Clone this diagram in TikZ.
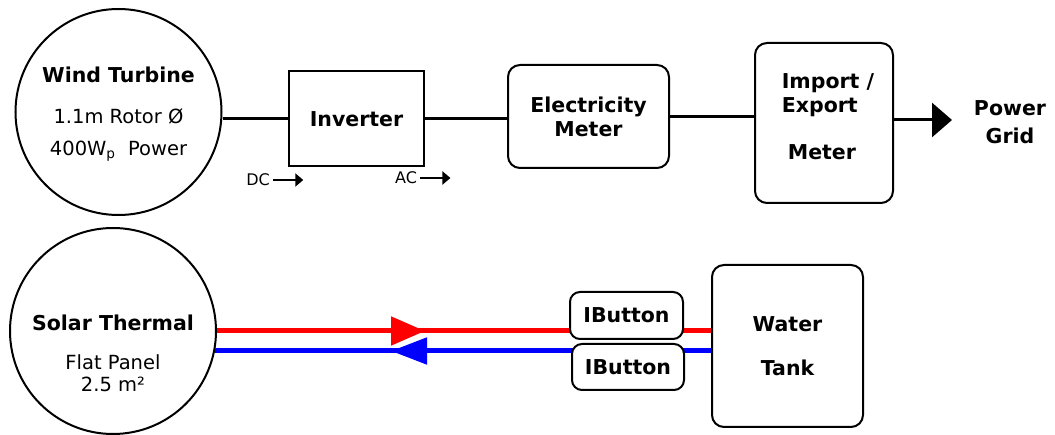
\documentclass[tikz,border=0pt]{standalone}
\usepackage{fontspec}
\setmainfont{DejaVu Sans}
\usetikzlibrary{arrows.meta, positioning, calc}
\definecolor{hotred}{RGB}{255, 0, 0}
\definecolor{coldblue}{RGB}{0, 0, 255}

\begin{document}
\begin{tikzpicture}[x=1pt, y=-1pt,
  every node/.style={font=\fontsize{19.5}{22}\selectfont},
  unit/.style={draw, line width=2pt, circle, minimum size=206pt, inner sep=0pt},
  block/.style={draw, line width=2pt, fill=white, inner sep=0pt, align=center, font=\fontsize{20.5}{24}\selectfont\bfseries},
  meter/.style={block, rounded corners=12pt},
  title/.style={font=\fontsize{20.5}{24}\selectfont\bfseries, align=center},
  small/.style={font=\fontsize{16}{18}\selectfont},
  wire/.style={line width=3pt},
  hotpipe/.style={hotred, line width=5pt},
  coldpipe/.style={coldblue, line width=5pt}]
\useasboundingbox (0,0) rectangle (1055,435);
% wind turbine line
\node[unit] (wt) at (118.5,112) {};
\node[title] (wtname) at (118.5,75) {Wind Turbine};
\node[align=center] (wtdata) at (118.5,135) {1.1m Rotor Ø\\[10pt]400W\textsubscript{p}\ \ Power};
\node[block, minimum width=135pt, minimum height=95pt] (inv) at (356.5,119) {Inverter};
\node[meter, minimum width=161pt, minimum height=103pt] (em) at (588.5,116.5) {Electricity\\Meter};
\node[meter, minimum width=138pt, minimum height=160pt] (ie) at (824,123) {};
\node[title, align=left] (ietext) at (828,117) {Import /\\Export\\[23pt]\hspace{6pt}Meter};
\node[title, font=\fontsize{20.5}{28}\selectfont\bfseries] (grid) at (1010,122) {Power\\Grid};
\coordinate (gridtip) at (952,120);
\draw[wire] (inv.west -| wt.east) -- (inv.west);
\draw[wire] (inv.east) -- (inv.east -| em.west);
\draw[wire] (em.east) -- (em.east -| ie.west);
\draw[wire, -{Triangle[length=20pt, width=34pt]}] (ie.east |- gridtip) -- (gridtip);
% dc / ac
\node[small] (dc) at (258,180) {DC};
\node[small] (ac) at (406,178) {AC};
\draw[line width=2pt, -{Triangle[length=8pt, width=13pt]}] (dc.east) -- ++(30,0);
\draw[line width=2pt, -{Triangle[length=8pt, width=13pt]}] (ac.east) -- ++(30,0);
% solar thermal line
\node[unit] (st) at (113,331) {};
\node[title] (stname) at (113,323) {Solar Thermal};
\node[align=center] (stdata) at (113,373) {Flat Panel\\2.5 m²};
\node[meter, minimum width=151pt, minimum height=162pt] (tank) at (787.5,346) {Water\\[20pt]Tank};
\coordinate (hottip) at (425,331);
\coordinate (coldtip) at (391,351);
\draw[hotpipe] (st.0) -- (st.0 -| tank.west);
\draw[hotpipe, -{Triangle[length=34pt, width=28pt]}] ($(hottip)+(-40,0)$) -- (hottip);
\draw[coldpipe] (st.-11) -- (st.-11 -| tank.west);
\draw[coldpipe, -{Triangle[length=36pt, width=26pt]}] ($(coldtip)+(40,0)$) -- (coldtip);
\node[meter, rounded corners=10pt, minimum width=113pt, minimum height=47pt] (ib1) at (626.5,315.5) {IButton};
\node[meter, rounded corners=10pt, minimum width=112pt, minimum height=46pt] (ib2) at (628,367) {IButton};
\end{tikzpicture}
\end{document}
